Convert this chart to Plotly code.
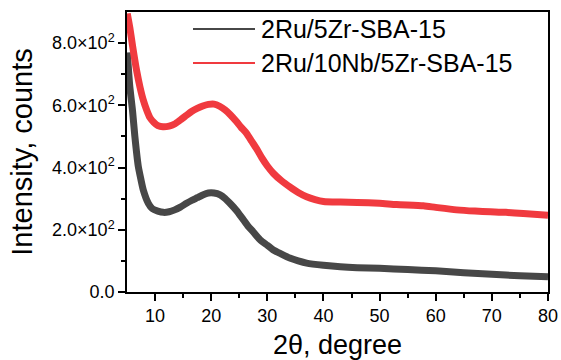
import plotly.graph_objects as go

# ---- data ----
black_name = "2Ru/5Zr-SBA-15"
red_name = "2Ru/10Nb/5Zr-SBA-15"

black_x = [5.05, 5.5, 6.0, 6.4, 7.0, 7.5, 7.9, 8.8, 9.5, 10.5, 11.5, 12.5, 13.5, 14.5,
           15.6, 16.5, 17.5, 18.5, 19.5, 20.5, 21.6, 22.5, 23.5, 24.5, 25.5, 26.5, 27.5,
           28.7, 30, 31, 32.5, 34, 35.5, 37, 40, 43, 46, 50, 55, 60, 65, 70, 75, 80]
black_y = [770, 660, 580, 500, 405, 360, 328, 285, 268, 260, 256, 258, 264, 273,
           285, 294, 303, 312, 318, 318, 312, 300, 282, 262, 238, 213, 193,
           168, 150, 136, 122, 109, 100, 93, 86, 81, 78, 76, 72, 68, 62, 57, 52, 49]

red_x = [5.05, 5.5, 6.0, 6.7, 7.3, 7.9, 8.5, 9.1, 9.8, 10.5, 11.4, 12.5, 13.5, 14.5,
         15.6, 16.5, 17.5, 18.5, 19.5, 20.5, 21.5, 22.5, 23.4, 24.5, 25.3, 26.3, 27.2,
         28.1, 29, 30, 31.1, 32.5, 34, 35.5, 37, 38.5, 40, 43, 46, 50, 53, 57.8, 60,
         63.7, 67, 69.7, 72.5, 75.6, 80]
red_y = [895, 850, 790, 713, 660, 617, 585, 560, 545, 535, 531, 533, 540, 553,
         568, 580, 590, 598, 603, 604, 597, 585, 570, 548, 530, 510, 485,
         460, 432, 405, 381, 358, 338, 320, 306, 297, 291, 289, 288, 285, 281, 277, 272,
         264, 260, 258, 256, 252, 247]

x_ticks = [10, 20, 30, 40, 50, 60, 70, 80]
y_ticks = [0, 200, 400, 600, 800]
y_ticktext = ["0.0", "2.0×10<sup>2</sup>", "4.0×10<sup>2</sup>",
              "6.0×10<sup>2</sup>", "8.0×10<sup>2</sup>"]

black_color = "#474747"
red_color = "#f03a3f"
FONT = "Liberation Sans, Arial, sans-serif"

fig = go.Figure()
fig.add_trace(go.Scatter(x=black_x, y=black_y, mode="lines", name=black_name,
                         line=dict(color=black_color, width=7, shape="spline", smoothing=0.6),
                         showlegend=False))
fig.add_trace(go.Scatter(x=red_x, y=red_y, mode="lines", name=red_name,
                         line=dict(color=red_color, width=7, shape="spline", smoothing=0.6),
                         showlegend=False))

# manual legend (thin sample lines + labels)
for i, (name, col) in enumerate([(black_name, black_color), (red_name, red_color)]):
    yy = 29 + 34 * i
    fig.add_shape(type="line", xref="paper", yref="paper",
                  x0=(193 - 127) / 421, x1=(255 - 127) / 421,
                  y0=1 - (yy - 12) / 280, y1=1 - (yy - 12) / 280,
                  line=dict(color=col, width=2))
    fig.add_annotation(xref="paper", yref="paper", x=(259 - 127) / 421,
                       y=1 - (yy - 12) / 280, text=name, showarrow=False,
                       xanchor="left", yanchor="middle",
                       font=dict(family=FONT, size=25, color="black"))

fig.update_layout(
    width=561, height=360,
    margin=dict(l=127, r=13, t=12, b=68),
    paper_bgcolor="white", plot_bgcolor="white",
    font=dict(family=FONT, color="black"),
    showlegend=False,
)
fig.update_xaxes(
    automargin=False,
    range=[5, 80], tickvals=x_ticks, ticks="outside", ticklen=7, tickwidth=1.5,
    tickcolor="black", showline=True, linecolor="black", linewidth=1.5, mirror=True,
    showgrid=False, zeroline=False, tickfont=dict(size=18, family=FONT),
    minor=dict(tickvals=[15, 25, 35, 45, 55, 65, 75], ticks="outside", ticklen=4,
               tickwidth=1.5, tickcolor="black"),
    title=dict(text="2θ, degree", font=dict(size=27, family=FONT), standoff=11),
)
fig.update_yaxes(
    automargin=False,
    range=[0, 900], tickvals=y_ticks, ticktext=y_ticktext, ticks="outside", ticklen=7,
    tickwidth=1.5, tickcolor="black", showline=True, linecolor="black", linewidth=1.5,
    mirror=True, showgrid=False, zeroline=False, tickfont=dict(size=18, family=FONT),
    minor=dict(tickvals=[100, 300, 500, 700], ticks="outside", ticklen=4,
               tickwidth=1.5, tickcolor="black"),
    title=dict(text="Intensity, counts", font=dict(size=29, family=FONT), standoff=11),
)

fig.write_html("out.html", config={"displayModeBar": False},
               post_script="document.body.style.margin='0px';document.body.style.overflow='hidden';")
